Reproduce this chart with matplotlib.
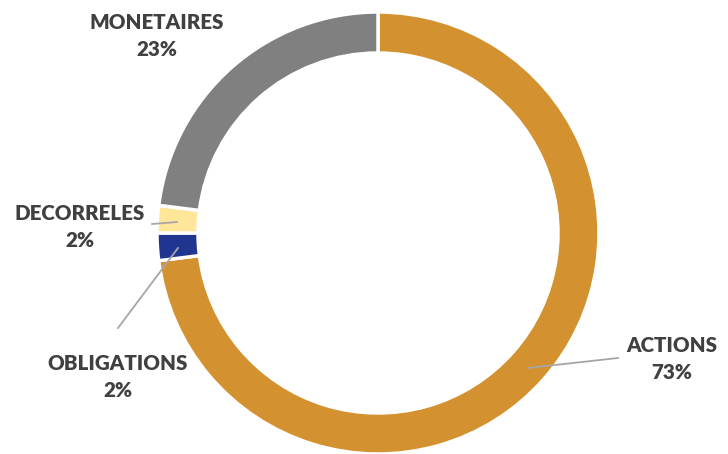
import matplotlib
matplotlib.use("Agg")
import matplotlib.pyplot as plt

categories = ["ACTIONS", "OBLIGATIONS", "DECORRELES", "MONETAIRES"]
values = [73, 2, 2, 23]
colors = ["#D39130", "#1F3590", "#FFE699", "#808080"]

W, H = 728, 454
fig = plt.figure(figsize=(W / 100, H / 100), dpi=100)
ax = fig.add_axes([0, 0, 1, 1])
ax.set_xlim(0, W)
ax.set_ylim(0, H)
ax.set_aspect("equal")
ax.axis("off")

cx, cy, R = 378, H - 233, 221
ax.pie(values, colors=colors, startangle=90, counterclock=False,
       center=(cx, cy), radius=R,
       wedgeprops=dict(width=41, edgecolor="white", linewidth=2.5))
ax.set_xlim(0, W)
ax.set_ylim(0, H)

txt = "#404040"
fp = dict(family=["Lato", "DejaVu Sans"], fontweight="heavy", color=txt,
          fontsize=14.8, ha="center", va="center", linespacing=1.5)

labels = {
    "MONETAIRES": (157, 36),
    "DECORRELES": (80, 227),
    "OBLIGATIONS": (118, 377),
    "ACTIONS": (672, 359),
}
pct = dict(zip(categories, values))
for name, (x, y) in labels.items():
    ax.text(x, H - y, f"{name}\n{pct[name]}%", **fp)

lc = "#A6A6A6"
ax.plot([152, 177], [H - 224, H - 222], color=lc, lw=1.3)
ax.plot([118, 178], [H - 328, H - 248], color=lc, lw=1.3)
ax.plot([528, 600, 618], [H - 368, H - 360, H - 358], color=lc, lw=1.3)

fig.savefig("out.png", dpi=100)
